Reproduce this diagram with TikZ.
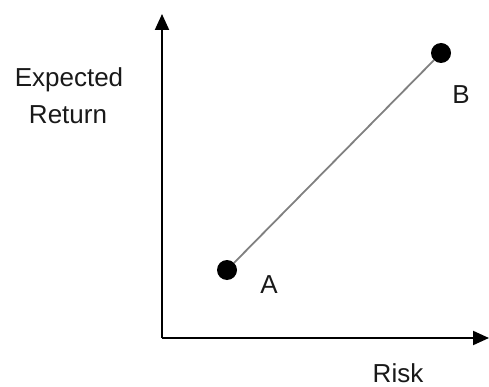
\documentclass[tikz,border=0pt]{standalone}
\usepackage{fontspec}
\setmainfont{Liberation Sans}
\usetikzlibrary{arrows.meta}
\begin{document}
\begin{tikzpicture}[x=1pt,y=-1pt,
  axis/.style={line width=2pt,-{Triangle[length=16pt,width=14pt]}},
  lbl/.style={anchor=base,inner sep=0pt,font=\fontsize{26}{30}\selectfont,text=black!90},
  dot/.style={circle,fill=black,minimum size=20pt,inner sep=0pt}]
\useasboundingbox (0,0) rectangle (489,387);
\coordinate (O) at (162,338);
\coordinate (Ytip) at (162,14);
\coordinate (Xtip) at (489,338);
\draw[axis] (O) -- (Ytip);
\draw[axis] (O) -- (Xtip);
\node[dot] (A) at (227,270) {};
\node[dot] (B) at (441,53) {};
\draw[line width=1.8pt,black!50] (A) -- (B);
\node[lbl] (la) at (269,293) {A};
\node[lbl] (lb) at (461,104) {B};
\node[lbl] (lx) at (398,382) {Risk};
\node[lbl] (ly1) at (69,87) {Expected};
\node[lbl] (ly2) at (68,124) {Return};
\end{tikzpicture}
\end{document}
